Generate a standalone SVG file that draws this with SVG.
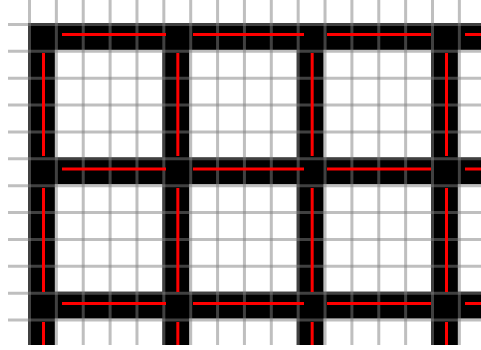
<svg xmlns="http://www.w3.org/2000/svg" width="481" height="350" viewBox="0 0 481 350">
  <style>
    .bar { fill: #000000; }
    .grid { fill: none; stroke: #808080; stroke-opacity: 0.5; stroke-width: 3; }
    .red { fill: none; stroke: #ff0000; stroke-width: 3; }
  </style>
  <rect x="0" y="0" width="481" height="350" fill="#ffffff"/>
  <g id="bars">
    <rect class="bar" x="28" y="23" width="26.87" height="322"/>
    <rect class="bar" x="162.33" y="23" width="26.87" height="322"/>
    <rect class="bar" x="296.67" y="23" width="26.87" height="322"/>
    <rect class="bar" x="431" y="23" width="26.87" height="322"/>
    <rect class="bar" x="28" y="23" width="453" height="26.87"/>
    <rect class="bar" x="28" y="157.33" width="453" height="26.87"/>
    <rect class="bar" x="28" y="291.67" width="453" height="26.87"/>
  </g>
  <g id="grid">
    <path class="grid" d="M29.5 0V345M56.37 0V345M83.23 0V345M110.1 0V345M136.97 0V345M163.83 0V345M190.7 0V345M217.57 0V345M244.43 0V345M271.3 0V345M298.17 0V345M325.03 0V345M351.9 0V345M378.77 0V345M405.63 0V345M432.5 0V345M459.37 0V345"/>
    <path class="grid" d="M8 24.5H481M8 51.37H481M8 78.23H481M8 105.1H481M8 131.97H481M8 158.83H481M8 185.7H481M8 212.57H481M8 239.43H481M8 266.3H481M8 293.17H481M8 320.03H481"/>
  </g>
  <g id="red-lines">
    <path class="red" d="M43.5 53V156M43.5 188V292M43.5 322V345M177.83 53V156M177.83 188V292M177.83 322V345M312.17 53V156M312.17 188V292M312.17 322V345M446.5 53V156M446.5 188V292M446.5 322V345"/>
    <path class="red" d="M62 34.5H166M193 34.5H304M327 34.5H431M465 34.5H481M62 169H166M193 169H304M327 169H431M465 169H481M62 303.5H166M193 303.5H304M327 303.5H431M465 303.5H481"/>
  </g>
</svg>
